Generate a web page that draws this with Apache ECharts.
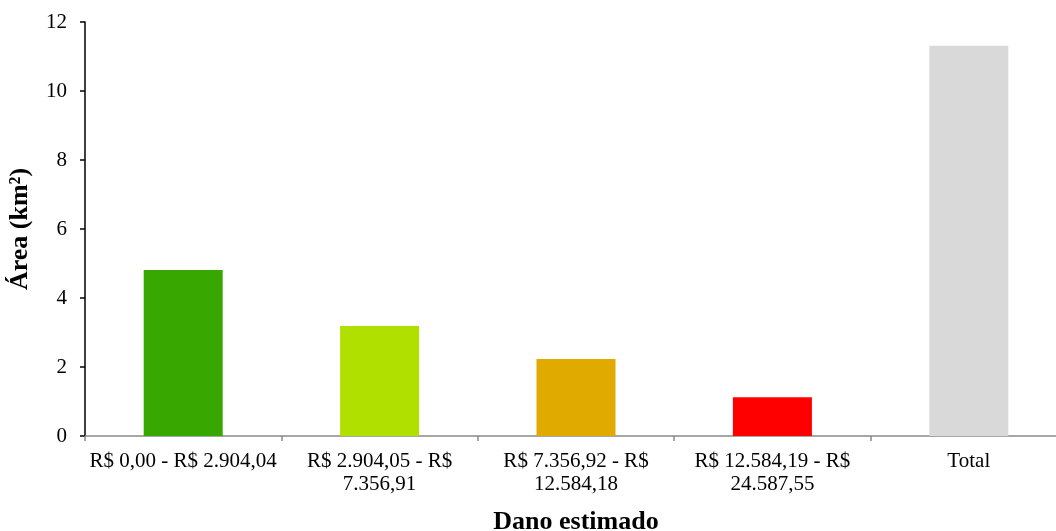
<!DOCTYPE html>
<html>
<head>
<meta charset="utf-8">
<script src="https://cdn.jsdelivr.net/npm/echarts@6/dist/echarts.min.js"></script>
<style>
  html, body { margin: 0; padding: 0; background: #fff; }
  #chart { width: 1056px; height: 531px; }
</style>
</head>
<body>
<div id="chart"></div>
<script>
// faixas de dano estimado
var categories = [
  'R$ 0,00 - R$ 2.904,04',
  'R$ 2.904,05 - R$\n7.356,91',
  'R$ 7.356,92 - R$\n12.584,18',
  'R$ 12.584,19 - R$\n24.587,55',
  'Total'
];
// área em km²
var areaValues = [4.81, 3.19, 2.23, 1.12, 11.31];
var barColors = ['#38a800', '#b0e000', '#e0aa00', '#ff0000', '#d9d9d9'];
var yTicks = [0, 2, 4, 6, 8, 10, 12];

var font = 'Liberation Serif';

var option = {
  animation: false,
  backgroundColor: '#fff',
  grid: {
    left: 85, right: -11, top: 22, bottom: 95,
    containLabel: false,
    outerBoundsMode: 'none'
  },
  xAxis: {
    type: 'category',
    data: categories,
    name: 'Dano estimado',
    nameLocation: 'middle',
    nameGap: 73,
    nameTextStyle: { fontFamily: font, fontSize: 26, fontWeight: 'bold', color: '#000' },
    axisLine: { lineStyle: { color: '#898989', width: 1.5 } },
    axisTick: { show: true, length: 5, lineStyle: { color: '#898989', width: 1.5 } },
    axisLabel: {
      fontFamily: font, fontSize: 21, color: '#000',
      margin: 14, lineHeight: 23, interval: 0
    }
  },
  yAxis: {
    type: 'value',
    min: yTicks[0],
    max: yTicks[yTicks.length - 1],
    interval: 2,
    name: 'Área (km²)',
    nameLocation: 'middle',
    nameRotate: 90,
    nameGap: 52,
    nameTextStyle: { fontFamily: font, fontSize: 26, fontWeight: 'bold', color: '#000' },
    axisLine: { show: true, lineStyle: { color: '#000', width: 1.5 } },
    axisTick: { show: true, length: 5, lineStyle: { color: '#000', width: 1.5 } },
    axisLabel: { fontFamily: font, fontSize: 21, color: '#000', margin: 18 },
    splitLine: { show: false }
  },
  series: [{
    type: 'bar',
    barWidth: 79,
    data: areaValues.map(function (v, i) {
      return { value: v, itemStyle: { color: barColors[i] } };
    })
  }]
};

echarts.init(document.getElementById('chart')).setOption(option);
</script>
</body>
</html>
